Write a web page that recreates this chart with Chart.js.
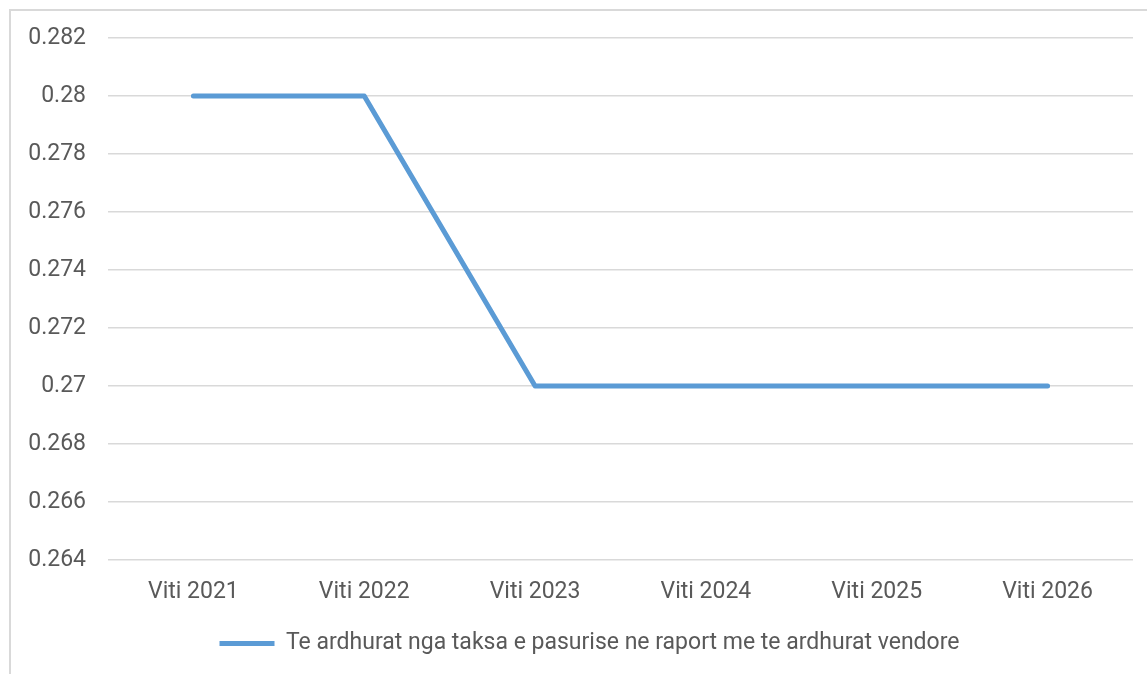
<!DOCTYPE html>
<html>
<head>
<meta charset="utf-8">
<script src="https://cdn.jsdelivr.net/npm/chart.js@4.4.1/dist/chart.umd.min.js"></script>
<style>
  html, body { margin: 0; padding: 0; background: #fff; overflow: hidden; }
  #frame {
    position: absolute; left: 9px; top: 9px; width: 1300px; height: 800px;
    border-left: 2px solid #d9d9d9; border-top: 2px solid #d9d9d9;
  }
  #wrap { position: absolute; left: 0; top: 0; width: 1147px; height: 674px; }
</style>
</head>
<body>
<div id="frame"></div>
<div id="wrap"><canvas id="chart"></canvas></div>
<script>
// Te dhenat e grafikut
const years = ['Viti 2021', 'Viti 2022', 'Viti 2023', 'Viti 2024', 'Viti 2025', 'Viti 2026'];
const ratioValues = [0.28, 0.28, 0.27, 0.27, 0.27, 0.27];
const seriesLabel = 'Te ardhurat nga taksa e pasurise ne raport me te ardhurat vendore';
const yMin = 0.264;
const yMax = 0.282;
const yStep = 0.002;

Chart.defaults.font.family = 'Roboto, "Open Sans", sans-serif';
Chart.defaults.font.size = 23;
Chart.defaults.color = '#595959';

// legjenda pak me djathtas, e qendruar sipas kornizes
const legendShift = {
  id: 'legendShift',
  afterLayout(chart) {
    const lg = chart.legend;
    if (!lg) return;
    lg.left += 18;
    lg.right += 18;
  }
};

try {
  const ctx = document.getElementById('chart').getContext('2d');
  const chart = new Chart(ctx, {
    type: 'line',
    data: {
      labels: years,
      datasets: [{
        label: seriesLabel,
        data: ratioValues,
        borderColor: '#5B9BD5',
        backgroundColor: '#5B9BD5',
        borderWidth: 5,
        borderCapStyle: 'round',
        borderJoinStyle: 'round',
        pointRadius: 0,
        pointHoverRadius: 0,
        tension: 0
      }]
    },
    options: {
      responsive: true,
      maintainAspectRatio: false,
      animation: false,
      layout: { padding: { left: 10, right: 14, top: 38, bottom: 9 } },
      scales: {
        x: {
          offset: true,
          grid: { display: false, drawTicks: false },
          border: { display: false },
          ticks: { padding: 18, maxRotation: 0 },
          afterFit(scale) { scale.height = 60; }
        },
        y: {
          min: yMin,
          max: yMax,
          grid: { color: '#d9d9d9', lineWidth: 1.5, drawTicks: false },
          border: { display: false },
          ticks: {
            stepSize: yStep,
            padding: 22,
            callback: v => String(parseFloat(v.toFixed(3)))
          },
          afterFit(scale) { scale.width = 98; }
        }
      },
      plugins: {
        legend: {
          position: 'bottom',
          labels: {
            usePointStyle: true,
            pointStyle: 'line',
            pointStyleWidth: 55,
            padding: 12,
            color: '#595959'
          }
        },
        tooltip: { enabled: false }
      }
    },
    plugins: [legendShift]
  });
} catch (error) {
  console.log(error);
}
</script>
</body>
</html>
